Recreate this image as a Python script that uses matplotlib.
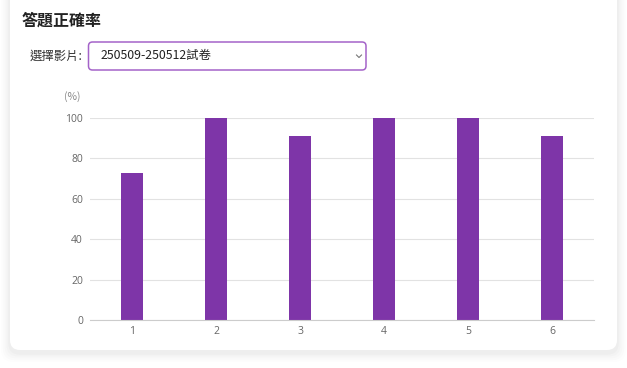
import numpy as np
import matplotlib.pyplot as plt
from matplotlib.patches import FancyBboxPatch

plt.rcParams['font.family'] = ['Noto Sans CJK TC', 'DejaVu Sans']

# data
questions = ['1', '2', '3', '4', '5', '6']
accuracy = [72.73, 100, 90.91, 100, 100, 90.91]
yticks = [0, 20, 40, 60, 80, 100]

title = '答題正確率'
select_label = '選擇影片:'
select_value = '250509-250512試卷'
unit = '(%)'

W, H = 627, 368
fig = plt.figure(figsize=(W / 100, H / 100), dpi=100)
fig.patch.set_facecolor('white')

# background layer in pixel coords
bg = fig.add_axes([0, 0, 1, 1], zorder=0)
bg.set_xlim(0, W)
bg.set_ylim(H, 0)
bg.axis('off')

# soft shadow of the card
for i, a in enumerate([0.008, 0.01, 0.013, 0.016, 0.02]):
    g = 9 - i * 1.8
    bg.add_patch(FancyBboxPatch((10 - g, -20), 607 + 2 * g, 370 + g + 3,
                                boxstyle='round,pad=0,rounding_size=12',
                                fc='black', ec='none', alpha=a))
bg.add_patch(FancyBboxPatch((10, -20), 607, 370,
                            boxstyle='round,pad=0,rounding_size=10',
                            fc='white', ec='none'))

bg.text(22, 21, title, fontsize=11.5, fontweight='bold', color='#222222',
        va='center', ha='left')
bg.text(30, 56, select_label, fontsize=8.9, color='#333333', va='center', ha='left')
bg.add_patch(FancyBboxPatch((88.5, 42), 277.5, 28,
                            boxstyle='round,pad=0,rounding_size=4',
                            fc='white', ec='#a463c9', lw=1.1))
bg.text(101, 56, select_value, fontsize=8.9, color='#222222', va='center', ha='left')
bg.plot([356.5, 359, 361.5], [55, 57.5, 55], color='#777777', lw=0.8)
bg.text(64, 97, unit, fontsize=7.5, color='#888888', va='center', ha='left')

# chart
ax = fig.add_axes([90 / W, 1 - 320 / H, 504 / W, 202 / H], zorder=1)
ax.patch.set_alpha(0)
x = np.arange(len(questions))
ax.bar(x, accuracy, width=0.27, color='#7e35a8', zorder=3)
ax.set_xlim(-0.5, len(questions) - 0.5)
ax.set_ylim(0, 100)
ax.set_xticks(x)
ax.set_xticklabels(questions)
ax.set_yticks(yticks)
ax.yaxis.grid(True, color='#e2e2e2', lw=0.8)
ax.set_axisbelow(True)
for s in ['top', 'right', 'left']:
    ax.spines[s].set_visible(False)
ax.spines['bottom'].set_color('#cccccc')
ax.spines['bottom'].set_zorder(4)
ax.tick_params(axis='both', length=0, labelsize=7.5, labelcolor='#666666')
ax.tick_params(axis='x', pad=4)
ax.tick_params(axis='y', pad=5)
for lab in ax.get_yticklabels() + ax.get_xticklabels():
    lab.set_family(['Open Sans', 'DejaVu Sans'])

fig.savefig('out.png', dpi=100)
